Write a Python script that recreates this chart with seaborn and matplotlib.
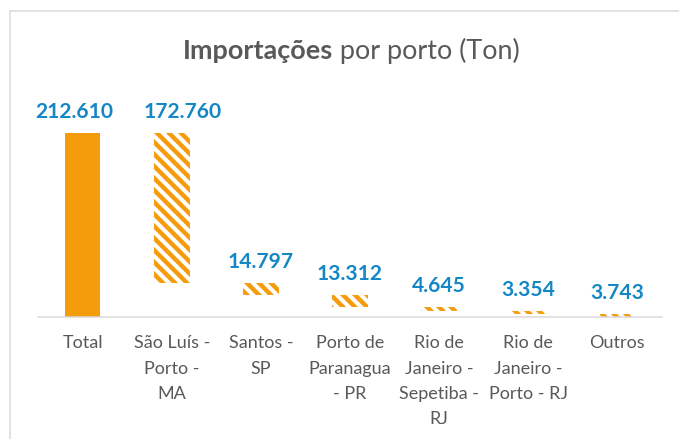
import matplotlib
matplotlib.use("Agg")
import matplotlib.pyplot as plt
import seaborn as sns
import pandas as pd
import numpy as np
from matplotlib.lines import Line2D

# ---- data ----
categories = ["Total", "São Luís -\nPorto -\nMA", "Santos -\nSP", "Porto de\nParanagua\n- PR",
              "Rio de\nJaneiro -\nSepetiba -\nRJ", "Rio de\nJaneiro -\nPorto - RJ", "Outros"]
values = [212.610, 172.760, 14.797, 13.312, 4.645, 3.354, 3.743]
value_labels = ["212.610", "172.760", "14.797", "13.312", "4.645", "3.354", "3.743"]
title_bold = "Importações"
title_rest = " por porto (Ton)"

ORANGE = "#F59C0C"
BLUE = "#1487C6"
TEXT_GRAY = "#595959"
LINE_GRAY = "#D9D9D9"

# waterfall bases
bases = [0.0]
running = values[0]
for v in values[1:]:
    running -= v
    bases.append(max(running, 0.0))

sns.set_style("white")
plt.rcParams["font.family"] = ["Lato", "DejaVu Sans"]
plt.rcParams["hatch.linewidth"] = 4.4

W, H, DPI = 679, 439, 72
fig = plt.figure(figsize=(W / DPI, H / DPI), dpi=DPI)
ax = fig.add_axes([38 / W, (H - 317) / H, 624 / W, 216.4 / H])

df = pd.DataFrame({"cat": categories, "val": values})
sns.barplot(data=df, x="cat", y="val", order=categories, color="white", saturation=1,
            width=0.4, ax=ax, errorbar=None)

for i, p in enumerate(ax.patches):
    p.set_y(bases[i])
    p.set_height(values[i])
    p.set_linewidth(0)
    if i == 0:
        p.set_facecolor(ORANGE)
        p.set_edgecolor(ORANGE)
        p.set_hatch(None)
    else:
        p.set_facecolor("white")
        p.set_edgecolor(ORANGE)
        p.set_hatch("\\\\")

label_dx = [-8, 11, 0, 0, 0, 0, 0]
for i, lab in enumerate(value_labels):
    ax.annotate(lab, xy=(i, bases[i] + values[i]), xytext=(label_dx[i], 21), textcoords="offset points",
                ha="center", va="center", color=BLUE, fontweight="bold", fontsize=21)

ax.set_xlim(-0.5, 6.5)
ax.set_ylim(0, 250)
ax.set_yticks([])
ax.set_xlabel("")
ax.set_ylabel("")
for s in ["left", "top", "right"]:
    ax.spines[s].set_visible(False)
ax.spines["bottom"].set_color(LINE_GRAY)
ax.spines["bottom"].set_linewidth(1.5)
ax.set_xticks(range(len(categories)))
ax.set_xticklabels(categories, fontsize=18, color=TEXT_GRAY, linespacing=1.71)
ax.set_xticks(np.arange(-0.5, len(categories), 1.0), minor=True)
ax.tick_params(axis="x", which="major", length=0, pad=18.5)
ax.tick_params(axis="x", which="minor", length=7, width=1.5, color=LINE_GRAY, direction="out")

# title (bold + regular parts)
renderer = fig.canvas.get_renderer()
ty = 1 - 51 / H
t1 = fig.text(0, ty, title_bold, fontsize=27, fontweight="bold", color=TEXT_GRAY, va="center", ha="left")
t2 = fig.text(0, ty, title_rest, fontsize=27, color=TEXT_GRAY, va="center", ha="left")
w1 = t1.get_window_extent(renderer).width
w2 = t2.get_window_extent(renderer).width
x0 = 351 - (w1 + w2) / 2
t1.set_x(x0 / W)
t2.set_x((x0 + w1) / W)

# chart border (top & left visible)
fig.add_artist(Line2D([10 / W, 10 / W], [0, 1 - 11 / H], color=LINE_GRAY, lw=1.5))
fig.add_artist(Line2D([10 / W, 1], [1 - 11 / H, 1 - 11 / H], color=LINE_GRAY, lw=1.5))

fig.savefig("out.png", dpi=DPI, facecolor="white")
